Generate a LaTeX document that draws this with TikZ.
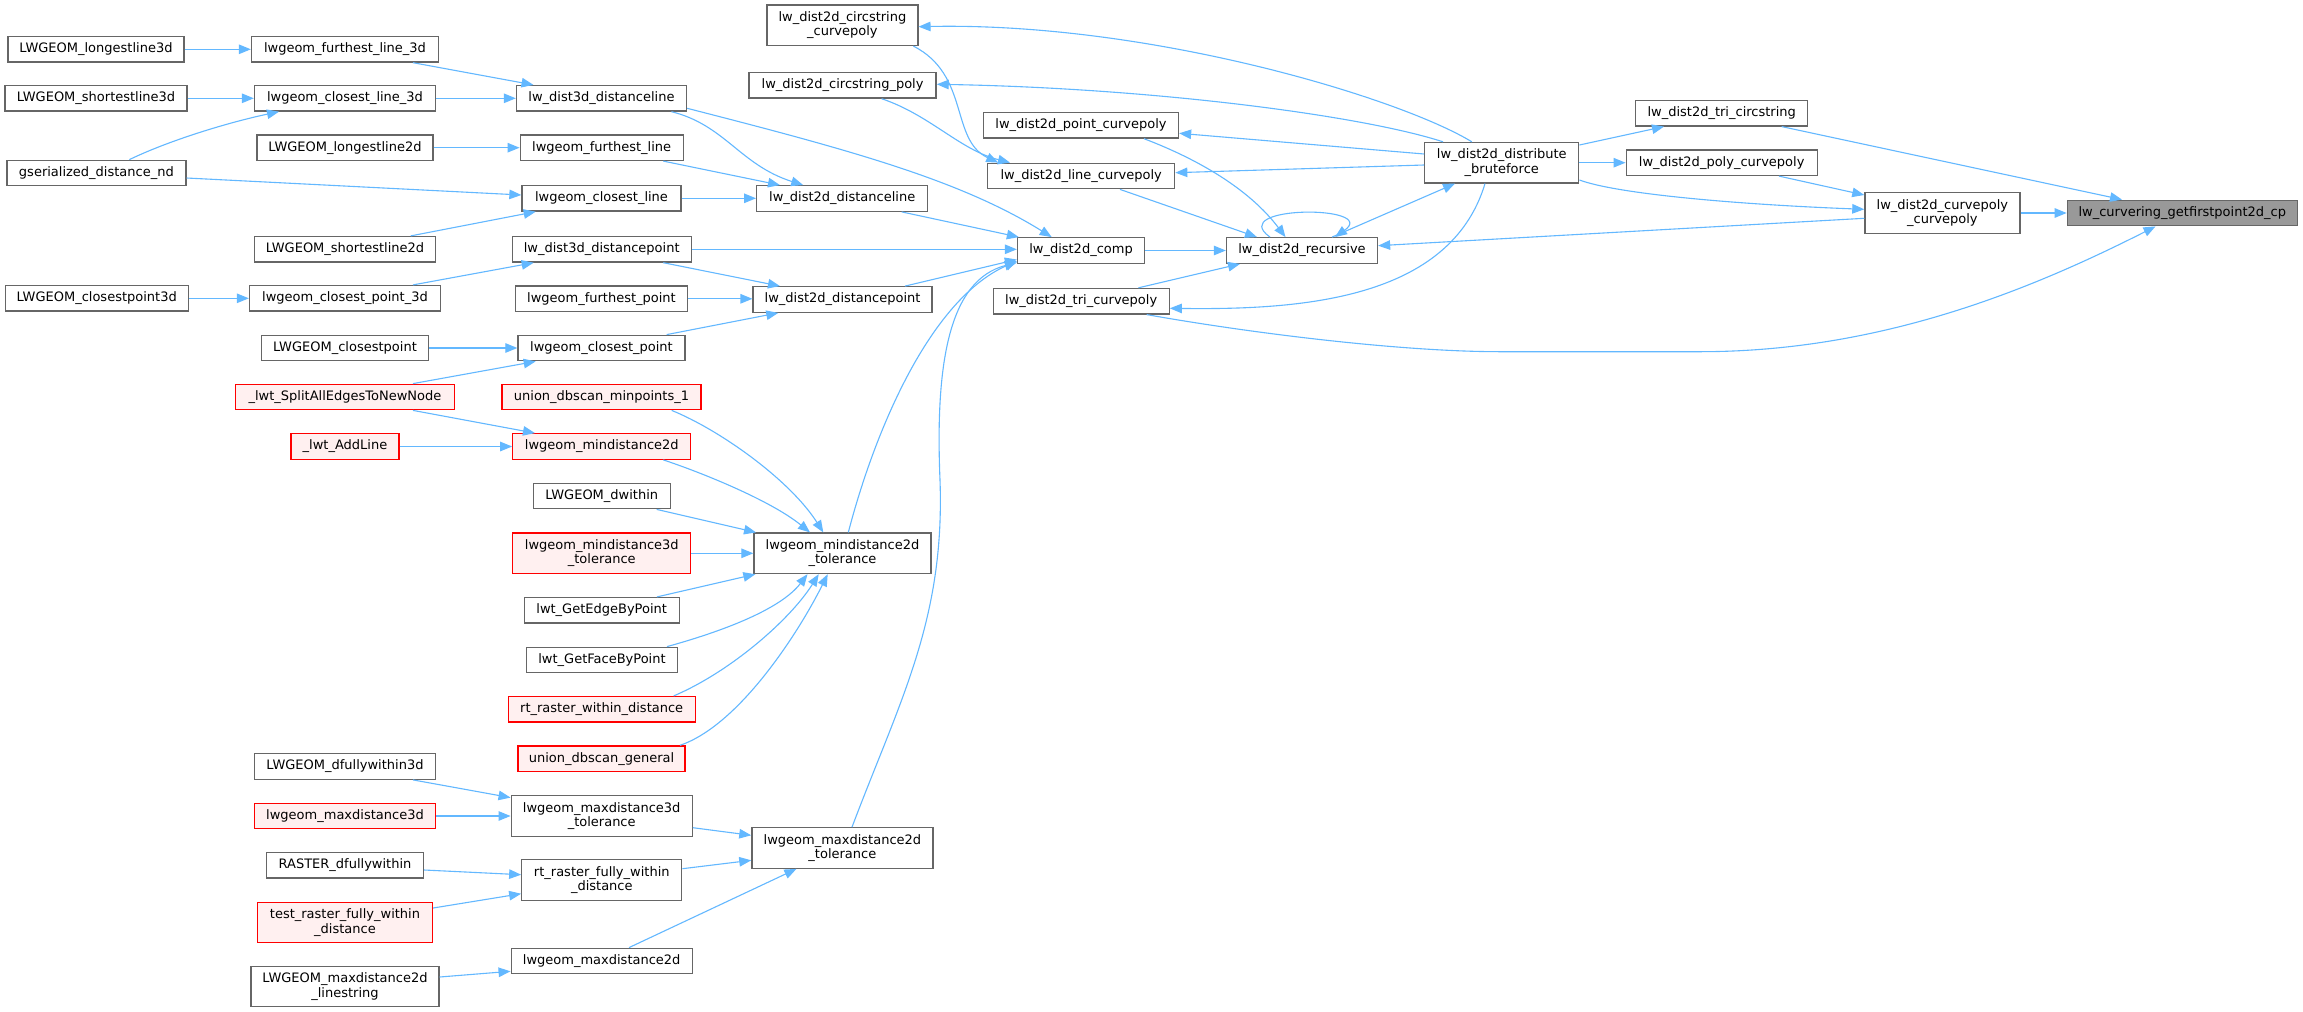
\documentclass[tikz,border=0pt]{standalone}
\usepackage{fontspec}
\setmainfont{DejaVu Sans}
\usetikzlibrary{arrows.meta}
\definecolor{boxgray}{HTML}{666666}
\definecolor{redfill}{HTML}{FFF0F0}
\definecolor{rootfill}{HTML}{999999}
\definecolor{edgeblue}{HTML}{63B8FF}
\newcommand\dxfont{\fontsize{13pt}{14.5pt}\selectfont}
\tikzset{
  box/.style={draw=boxgray, line width=1.3pt, fill=white, inner sep=0pt, minimum height=25.5pt, text height=9.6pt, text depth=2.9pt, font=\dxfont},
  boxtwo/.style={draw=boxgray, line width=1.3pt, fill=white, inner sep=0pt, minimum height=40.5pt, align=center, font=\dxfont},
  redb/.style={draw=red, fill=redfill},
  rootb/.style={fill=rootfill},
  edg/.style={draw=edgeblue, line width=1.1pt, -{Triangle[length=12pt,width=9.5pt]}}
}
\begin{document}
\begin{tikzpicture}[x=1pt,y=-1pt]
\fill[white] (0,0) rectangle (2303,1012);
\useasboundingbox (0,0) rectangle (2303,1012);
% column 1
\node[box, minimum width=176pt] (ll3d) at (96,49.3) {LWGEOM\_longestline3d};
\node[box, minimum width=182pt] (sl3d) at (96,98.3) {LWGEOM\_shortestline3d};
\node[box, minimum width=179pt] (gsd) at (96.4,173) {gserialized\_distance\_nd};
\node[box, minimum width=183pt] (cp3d) at (96.7,298.3) {LWGEOM\_closestpoint3d};
% column 2
\node[box, minimum width=187pt] (fl3d) at (345,49.3) {lwgeom\_furthest\_line\_3d};
\node[box, minimum width=181pt] (cl3d) at (345,98.3) {lwgeom\_closest\_line\_3d};
\node[box, minimum width=176pt] (ll2d) at (345,147.7) {LWGEOM\_longestline2d};
\node[box, minimum width=181pt] (sl2d) at (345,249.3) {LWGEOM\_shortestline2d};
\node[box, minimum width=191pt] (cpt3d) at (345,298.3) {lwgeom\_closest\_point\_3d};
\node[box, minimum width=167pt] (cpt) at (345,348) {LWGEOM\_closestpoint};
\node[box, redb, minimum width=219pt] (split) at (345,397) {\_lwt\_SplitAllEdgesToNewNode};
\node[box, redb, minimum width=108pt] (addline) at (345,446.5) {\_lwt\_AddLine};
\node[box, minimum width=181pt] (dfw3d) at (345,766.5) {LWGEOM\_dfullywithin3d};
\node[box, redb, minimum width=181pt] (max3d) at (345,816) {lwgeom\_maxdistance3d};
\node[box, minimum width=157pt] (rdfw) at (345,865.3) {RASTER\_dfullywithin};
\node[boxtwo, redb, minimum width=175pt] (trfw) at (345,922.5) {test\_raster\_fully\_within\\\_distance};
\node[boxtwo, minimum width=188pt] (max2dls) at (345,986.5) {LWGEOM\_maxdistance2d\\\_linestring};
% column 3
\node[box, minimum width=170pt] (d3dl) at (601.5,98.3) {lw\_dist3d\_distanceline};
\node[box, minimum width=163pt] (fl) at (601.7,147.7) {lwgeom\_furthest\_line};
\node[box, minimum width=159pt] (cl) at (601.5,198.3) {lwgeom\_closest\_line};
\node[box, minimum width=179pt] (d3dp) at (601.7,249.3) {lw\_dist3d\_distancepoint};
\node[box, minimum width=172pt] (fp) at (601.5,298.8) {lwgeom\_furthest\_point};
\node[box, minimum width=167pt] (cp) at (601.5,348) {lwgeom\_closest\_point};
\node[box, redb, minimum width=199pt] (udm1) at (601.5,397) {union\_dbscan\_minpoints\_1};
\node[box, redb, minimum width=178pt] (md2d) at (601.8,446.5) {lwgeom\_mindistance2d};
\node[box, minimum width=137pt] (dw) at (601.7,496) {LWGEOM\_dwithin};
\node[boxtwo, redb, minimum width=178pt] (md3dt) at (601.8,553.3) {lwgeom\_mindistance3d\\\_tolerance};
\node[box, minimum width=155pt] (gebp) at (601.7,610.3) {lwt\_GetEdgeByPoint};
\node[box, minimum width=151pt] (gfbp) at (602,660) {lwt\_GetFaceByPoint};
\node[box, redb, minimum width=187pt] (rwd) at (601.7,709.3) {rt\_raster\_within\_distance};
\node[box, redb, minimum width=167pt] (udg) at (601.5,758.7) {union\_dbscan\_general};
\node[boxtwo, minimum width=181pt] (mx3dt) at (601.7,816) {lwgeom\_maxdistance3d\\\_tolerance};
\node[boxtwo, minimum width=160pt] (rfwd) at (601.8,880) {rt\_raster\_fully\_within\\\_distance};
\node[box, minimum width=181pt] (mx2d) at (601.7,961) {lwgeom\_maxdistance2d};
% column 4
\node[boxtwo, minimum width=151pt] (dcc) at (842.4,25.2) {lw\_dist2d\_circstring\\\_curvepoly};
\node[box, minimum width=187pt] (dcp) at (842.6,85.3) {lw\_dist2d\_circstring\_poly};
\node[box, minimum width=171pt] (d2dl) at (842.2,198.5) {lw\_dist2d\_distanceline};
\node[box, minimum width=179pt] (d2dp) at (842.6,299.5) {lw\_dist2d\_distancepoint};
\node[boxtwo, minimum width=177pt] (md2dt) at (842.5,553.3) {lwgeom\_mindistance2d\\\_tolerance};
\node[boxtwo, minimum width=181pt] (mx2dt) at (842.4,848) {lwgeom\_maxdistance2d\\\_tolerance};
% column 5
\node[box, minimum width=195pt] (dpc) at (1081,125.3) {lw\_dist2d\_point\_curvepoly};
\node[box, minimum width=187pt] (dlc) at (1081.2,176) {lw\_dist2d\_line\_curvepoly};
\node[box, minimum width=127pt] (comp) at (1081,250.5) {lw\_dist2d\_comp};
\node[box, minimum width=176pt] (dtc) at (1081.2,301.2) {lw\_dist2d\_tri\_curvepoly};
% right part
\node[box, minimum width=151pt] (rec) at (1302,250.5) {lw\_dist2d\_recursive};
\node[boxtwo, minimum width=154pt] (bf) at (1501.8,162.7) {lw\_dist2d\_distribute\\\_bruteforce};
\node[box, minimum width=172pt] (dtcs) at (1721.7,113.2) {lw\_dist2d\_tri\_circstring};
\node[box, minimum width=191pt] (dpoc) at (1721.7,162.7) {lw\_dist2d\_poly\_curvepoly};
\node[boxtwo, minimum width=155pt] (dccp) at (1942.4,213) {lw\_dist2d\_curvepoly\\\_curvepoly};
\node[box, rootb, minimum width=230pt] (root) at (2182.3,213) {lw\_curvering\_getfirstpoint2d\_cp};
% edges, column 1 -> 2
\draw[edg] (ll3d.east) -- (ll3d.east -| fl3d.west);
\draw[edg] (sl3d.east) -- (sl3d.east -| cl3d.west);
\draw[edg] ([xshift=33pt]gsd.north) .. controls (170,140) and (230,122) .. ([xshift=-66pt]cl3d.south);
\draw[edg] ([yshift=-5pt]gsd.east) -- ([yshift=3.3pt]cl.west);
\draw[edg] (cp3d.east) -- (cp3d.east -| cpt3d.west);
% column 2 -> 3
\draw[edg] ([xshift=68pt]fl3d.south) -- ([xshift=-68pt]d3dl.north);
\draw[edg] (cl3d.east) -- (cl3d.east -| d3dl.west);
\draw[edg] (ll2d.east) -- (ll2d.east -| fl.west);
\draw[edg] ([xshift=65.7pt]sl2d.north) -- ([xshift=-65.8pt]cl.south);
\draw[edg] ([xshift=68pt]cpt3d.north) -- ([xshift=-68pt]d3dp.south);
\draw[edg] (cpt.east) -- (cpt.east -| cp.west);
\draw[edg] ([xshift=68pt]split.north) -- ([xshift=-65.8pt]cp.south);
\draw[edg] ([xshift=68pt]split.south) -- ([xshift=-66.8pt]md2d.north);
\draw[edg] (addline.east) -- (addline.east -| md2d.west);
\draw[edg] ([xshift=68pt]dfw3d.south) -- ([yshift=-2.5pt]mx3dt.north west);
\draw[edg] (max3d.east) -- (max3d.east -| mx3dt.west);
\draw[edg] ([yshift=-4.7pt]rdfw.east) -- ([yshift=5.3pt]rfwd.west);
\draw[edg] ([yshift=14.5pt]trfw.east) -- ([yshift=-13.7pt]rfwd.west);
\draw[edg] ([yshift=9.5pt]max2dls.east) -- ([yshift=-10.3pt]mx2d.west);
% column 3 -> 4
\draw[edg] ([xshift=70pt]d3dl.south) .. controls (725,125) and (740,165) .. ([xshift=-39pt]d2dl.north);
\draw[edg] ([xshift=61.6pt]fl.south) -- ([xshift=-62.2pt]d2dl.north);
\draw[edg] (cl.east) -- (cl.east -| d2dl.west);
\draw[edg] ([xshift=61.6pt]d3dp.south) -- ([xshift=-62.6pt]d2dp.north);
\draw[edg] (fp.east) -- (fp.east -| d2dp.west);
\draw[edg] ([xshift=65.2pt]cp.north) -- ([xshift=-64.3pt]d2dp.south);
\draw[edg] ([xshift=70.2pt]udm1.south) .. controls (720,430) and (790,480) .. ([xshift=-19.2pt]md2dt.north);
\draw[edg] ([xshift=61.5pt]md2d.south) .. controls (700,472) and (770,500) .. ([xshift=-32.5pt]md2dt.north);
\draw[edg] ([xshift=55pt]dw.south) -- ([xshift=2.7pt]md2dt.north west);
\draw[edg] (md3dt.east) -- (md3dt.east -| md2dt.west);
\draw[edg] ([xshift=55.3pt]gebp.north) -- ([xshift=2pt]md2dt.south west);
\draw[edg] ([xshift=65pt]gfbp.north) .. controls (720,632) and (780,610) .. ([xshift=-35pt]md2dt.south);
\draw[edg] ([xshift=72pt]rwd.north) .. controls (730,672) and (790,620) .. ([xshift=-23.8pt]md2dt.south);
\draw[edg] ([xshift=78.5pt]udg.north) .. controls (740,725) and (800,630) .. ([xshift=-14.8pt]md2dt.south);
\draw[edg] ([yshift=-11.7pt]mx3dt.east) -- ([yshift=12.7pt]mx2dt.west);
\draw[edg] ([yshift=11.3pt]rfwd.east) -- ([yshift=-12.3pt]mx2dt.west);
\draw[edg] ([xshift=27.3pt]mx2d.north) -- ([xshift=-46pt]mx2dt.south);
% into lw_dist2d_comp
\draw[edg] ([yshift=-10pt]d3dl.east) .. controls (850,150) and (960,180) .. ([xshift=-29.3pt]comp.north);
\draw[edg] ([xshift=59.5pt]d2dl.south) -- ([xshift=2pt]comp.north west);
\draw[edg] (d3dp.east) -- (d3dp.east -| comp.west);
\draw[edg] ([xshift=62.4pt]d2dp.north) -- ([yshift=-9pt]comp.west);
\draw[edg] ([xshift=5.8pt]md2dt.north) .. controls (875,430) and (930,300) .. ([yshift=-10.5pt]comp.west);
\draw[edg] ([xshift=9.6pt]mx2dt.north) .. controls (900,700) and (945,620) .. (940,480) .. controls (935,360) and (950,280) .. ([yshift=-12pt]comp.west);
% column 4 -> 5
\draw[edg] ([xshift=71pt]dcc.south) .. controls (970,75) and (950,140) .. ([xshift=-83pt]dlc.north);
\draw[edg] ([xshift=39pt]dcp.south) .. controls (930,115) and (960,150) .. ([xshift=-71.2pt]dlc.north);
% into lw_dist2d_recursive
\draw[edg] ([xshift=38.8pt]dlc.south) -- ([xshift=-45pt]rec.north);
\draw[edg] ([xshift=63pt]dpc.south) .. controls (1200,160) and (1250,190) .. ([xshift=-16.5pt]rec.north);
\draw[edg] (comp.east) -- (rec.west);
\draw[edg] ([xshift=57.3pt]dtc.north) -- ([xshift=-62pt]rec.south);
\draw[edg] ([xshift=-32pt]rec.north) .. controls (1225,205) and (1380,205) .. ([xshift=33pt]rec.north);
\draw[edg] ([xshift=30pt]rec.north) -- ([xshift=-46.8pt]bf.south);
% from bruteforce
\draw[edg] ([xshift=-30pt]bf.north) .. controls (1400,98) and (1150,22) .. ([yshift=-1.5pt]dcc.east);
\draw[edg] ([xshift=-58.8pt]bf.north) .. controls (1360,115) and (1150,88) .. ([yshift=1pt]dcp.east);
\draw[edg] ([yshift=8.7pt]bf.west) -- ([yshift=-8pt]dpc.east);
\draw[edg] ([yshift=-2.3pt]bf.west) -- ([yshift=3.3pt]dlc.east);
\draw[edg] ([xshift=-16.8pt]bf.south) .. controls (1450,300) and (1300,310) .. ([yshift=-7.1pt]dtc.east);
\draw[edg] ([yshift=17.7pt]bf.east) -- ([xshift=-57.7pt]dtcs.south);
\draw[edg] (bf.east) -- (bf.east -| dpoc.west);
\draw[edg] ([yshift=-17.3pt]bf.east) .. controls (1620,195) and (1750,205) .. ([yshift=3.7pt]dccp.west);
\draw[edg] ([xshift=57.3pt]dpoc.south) -- ([yshift=18pt]dccp.west);
\draw[edg] ([yshift=-5.3pt]dccp.west) -- ([yshift=4.8pt]rec.east);
% into root
\draw[edg] ([xshift=60pt]dtcs.south) -- ([xshift=-60.3pt]root.north);
\draw[edg] (dccp.east) -- (root.west);
\draw[edg] ([xshift=65.5pt]dtc.south) .. controls (1250,333) and (1400,351.7) .. (1500,351.7) -- (1700,351.7) .. controls (1880,351.7) and (2030,290) .. ([xshift=-26.8pt]root.south);
\end{tikzpicture}
\end{document}
